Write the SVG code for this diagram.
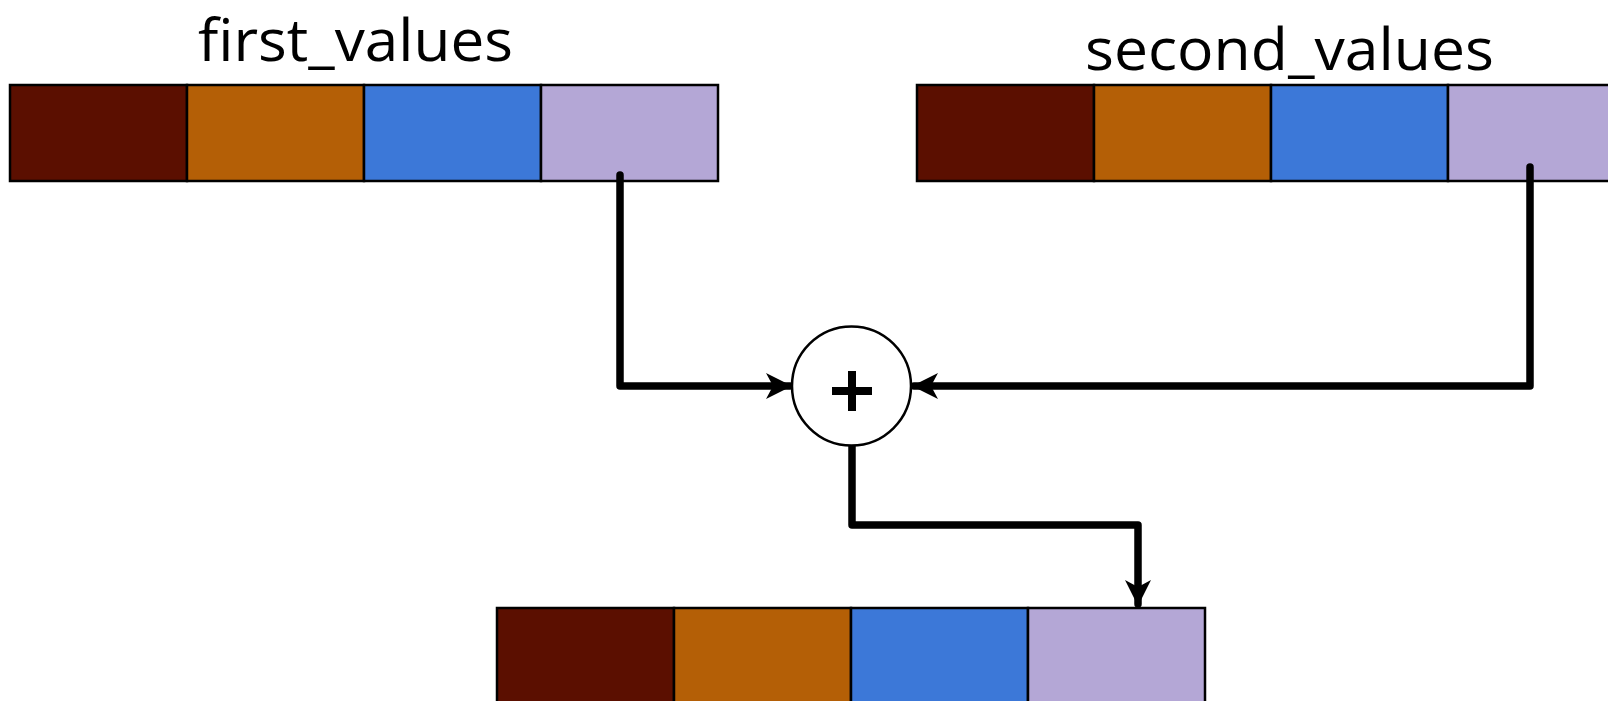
<svg xmlns="http://www.w3.org/2000/svg" width="1608" height="701" viewBox="0 0 1608 701">
<defs>
<style>
.cell{stroke:#000;stroke-width:2.5}
.c1{fill:#5b0f00}.c2{fill:#b45f06}.c3{fill:#3c78d8}.c4{fill:#b4a7d6}
.lbl{font-family:"Open Sans","Liberation Sans",sans-serif;font-size:58px;fill:#000}
.conn{fill:none;stroke:#000;stroke-width:7.5;stroke-linejoin:round;stroke-linecap:round}
</style>
<marker id="arr" viewBox="0 0 26 26" refX="24" refY="13" markerWidth="26" markerHeight="26" markerUnits="userSpaceOnUse" orient="auto">
<path d="M0,0 L26,13 L0,26 L7,13 Z" fill="#000"/>
</marker>
</defs>
<rect width="1608" height="701" fill="#fff"/>
<g id="first_values">
<text class="lbl" x="198" y="61" textLength="315" lengthAdjust="spacingAndGlyphs">first_values</text>
<rect class="cell c1" x="10" y="85" width="177" height="96"/>
<rect class="cell c2" x="187" y="85" width="177" height="96"/>
<rect class="cell c3" x="364" y="85" width="177" height="96"/>
<rect class="cell c4" x="541" y="85" width="177" height="96"/>
</g>
<g id="second_values">
<text class="lbl" x="1085" y="70" textLength="409" lengthAdjust="spacingAndGlyphs">second_values</text>
<rect class="cell c1" x="917" y="85" width="177" height="96"/>
<rect class="cell c2" x="1094" y="85" width="177" height="96"/>
<rect class="cell c3" x="1271" y="85" width="177" height="96"/>
<rect class="cell c4" x="1448" y="85" width="177" height="96"/>
</g>
<g id="result">
<rect class="cell c1" x="497" y="608" width="177" height="96"/>
<rect class="cell c2" x="674" y="608" width="177" height="96"/>
<rect class="cell c3" x="851" y="608" width="177" height="96"/>
<rect class="cell c4" x="1028" y="608" width="177" height="96"/>
</g>
<g id="connectors">
<path class="conn" d="M620,175 V386 H790" marker-end="url(#arr)"/>
<path class="conn" d="M1530,167 V386 H914" marker-end="url(#arr)"/>
<path class="conn" d="M852,446 V525 H1138 V604" marker-end="url(#arr)"/>
</g>
<g id="plus">
<circle cx="851.5" cy="386" r="59.5" fill="#fff" stroke="#000" stroke-width="2.5"/>
<path d="M832,391 H872 M852,371 V411" stroke="#000" stroke-width="8" fill="none"/>
</g>
</svg>
